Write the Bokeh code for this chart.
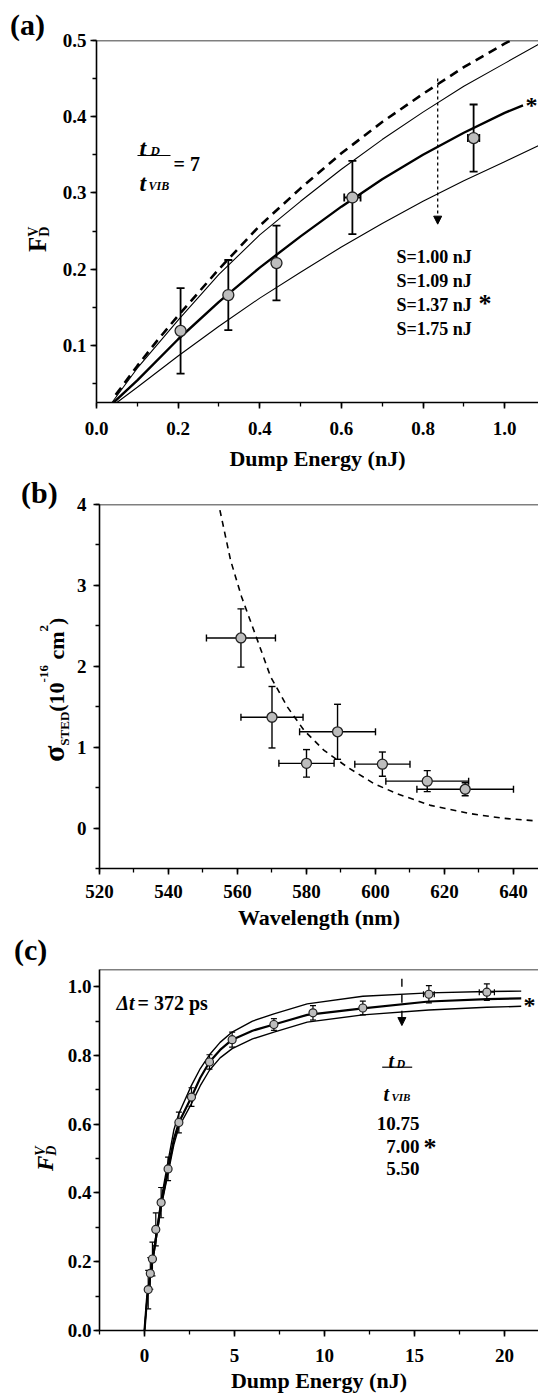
import math
from bokeh.plotting import figure
from bokeh.models import (Range1d, SingleIntervalTicker, NumeralTickFormatter, Label, Div,
                          Span, Whisker, TeeHead, Arrow, NormalHead, ColumnDataSource)
from bokeh.layouts import column, row
from bokeh.embed import file_html
from bokeh.resources import INLINE

SERIF = "Liberation Serif"
PAGE_W = 538

# ---------------- panel (a) data ----------------
a_energy = [0.206, 0.323, 0.441, 0.627, 0.924]
a_fd = [0.119, 0.166, 0.208, 0.294, 0.372]
a_fd_err = [0.056, 0.046, 0.049, 0.048, 0.044]
a_energy_err = [0.0, 0.0, 0.0, 0.02, 0.014]

a_s100_x = [0.047, 0.1, 0.15, 0.2, 0.3, 0.4, 0.5, 0.6, 0.7, 0.8, 0.9, 1.0, 1.015]
a_s100_y = [0.035, 0.073, 0.107, 0.139, 0.200, 0.257, 0.306, 0.352, 0.393, 0.430, 0.465, 0.496, 0.500]
a_s109_x = [0.038, 0.1, 0.2, 0.3, 0.4, 0.5, 0.6, 0.7, 0.8, 0.9, 1.0, 1.083]
a_s109_y = [0.025, 0.070, 0.133, 0.193, 0.245, 0.289, 0.331, 0.370, 0.406, 0.440, 0.470, 0.495]
a_s137_x = [0.042, 0.1, 0.2, 0.3, 0.4, 0.5, 0.6, 0.7, 0.8, 0.9, 1.0, 1.045]
a_s137_y = [0.025, 0.054, 0.108, 0.157, 0.202, 0.243, 0.282, 0.318, 0.350, 0.379, 0.405, 0.415]
a_s175_x = [0.05, 0.1, 0.2, 0.3, 0.4, 0.5, 0.6, 0.7, 0.8, 0.9, 1.0, 1.083]
a_s175_y = [0.025, 0.045, 0.086, 0.125, 0.162, 0.196, 0.229, 0.260, 0.289, 0.316, 0.341, 0.362]
a_legend = ["S=1.00 nJ", "S=1.09 nJ", "S=1.37 nJ", "S=1.75 nJ"]

# ---------------- panel (b) data ----------------
b_wl = [561, 570, 580, 589, 602, 615, 626]
b_sigma = [2.35, 1.37, 0.80, 1.19, 0.79, 0.58, 0.48]
b_sigma_err = [0.36, 0.38, 0.17, 0.34, 0.15, 0.13, 0.08]
b_wl_err = [10, 9, 8, 11, 8, 12, 14]
b_fit_x = [554.9, 558.0, 561.2, 565.8, 569.6, 574.5, 579.3, 585.1, 591.9, 599.6, 606.3, 616.0, 627.6, 637.2, 646.0]
b_fit_y = [3.93, 3.31, 2.857, 2.32, 1.87, 1.495, 1.207, 0.96, 0.752, 0.548, 0.424, 0.28, 0.177, 0.12, 0.09]

# ---------------- panel (c) data ----------------
c_energy = [0.206, 0.323, 0.441, 0.627, 0.924, 1.31, 1.91, 2.61, 3.61, 4.87, 7.19, 9.36, 12.13, 15.8, 19.02]
c_fd = [0.119, 0.166, 0.208, 0.294, 0.372, 0.47, 0.605, 0.679, 0.781, 0.846, 0.89, 0.924, 0.938, 0.978, 0.984]
c_fd_err = [0.056, 0.046, 0.049, 0.048, 0.044, 0.034, 0.03, 0.027, 0.021, 0.022, 0.017, 0.021, 0.02, 0.025, 0.024]
c_energy_err = [0, 0, 0, 0.02, 0.014, 0, 0, 0, 0, 0, 0, 0, 0, 0.3, 0.42]
c_curve_x = [0.0, 0.15, 0.37, 0.65, 0.93, 1.3, 1.63, 1.91, 2.61, 3.1, 3.61, 4.2, 4.87, 6.0, 7.19, 9.04, 12.13, 15.8, 19.02, 20.93]
c_r1075_y = [0.0, 0.102, 0.182, 0.283, 0.383, 0.49, 0.583, 0.631, 0.713, 0.762, 0.802, 0.838, 0.868, 0.900, 0.921, 0.95, 0.972, 0.982, 0.986, 0.987]
c_r700_y = [0.0, 0.100, 0.177, 0.273, 0.370, 0.467, 0.556, 0.605, 0.679, 0.735, 0.781, 0.816, 0.846, 0.872, 0.89, 0.918, 0.937, 0.957, 0.964, 0.966]
c_r550_y = [0.0, 0.098, 0.172, 0.266, 0.360, 0.455, 0.540, 0.592, 0.660, 0.712, 0.757, 0.793, 0.82, 0.848, 0.868, 0.897, 0.918, 0.932, 0.94, 0.943]
c_ratios = ["10.75", "7.00", "5.50"]

# ranges
XR_A, YR_A = (0.0, 1.083), (0.025, 0.5)
XR_B, YR_B = (520.0, 647.25), (-0.5, 4.0)
XR_C, YR_C = (-2.5, 21.89), (0.0, 1.05)

FONT_CSS = "font-family:'Liberation Serif',serif;font-weight:bold;fill:black;"


class Geo:
    """page-pixel -> data converter for one main figure"""
    def __init__(self, fig_left, fig_top, bl, bt, h_frame, xr, yr):
        self.left = fig_left + bl
        self.top = fig_top + bt
        self.w = PAGE_W - self.left
        self.h = h_frame
        self.xr, self.yr = xr, yr

    def x(self, px):
        return self.xr[0] + (px - self.left) * (self.xr[1] - self.xr[0]) / self.w

    def y(self, py):
        return self.yr[1] - (py - self.top) * (self.yr[1] - self.yr[0]) / self.h


def stext(body, size, x=None, y=None, transform=None, italic=False):
    style = FONT_CSS + f"font-size:{size}px;" + ("font-style:italic;" if italic else "")
    pos = f'transform="{transform}"' if transform else f'x="{x}" y="{y}"'
    return f'<text {pos} style="{style}">{body}</text>'


def tsp(body, size=None, dx=None, dy=None):
    attrs = ""
    if dx is not None:
        attrs += f' dx="{dx}"'
    if dy is not None:
        attrs += f' dy="{dy}"'
    st = f' style="font-size:{size}px"' if size else ""
    return f'<tspan{attrs}{st}>{body}</tspan>'


def side_div(w, h, inner):
    svg = (f'<svg xmlns="http://www.w3.org/2000/svg" width="{w}" height="{h}" '
           f'style="display:block;overflow:visible;{FONT_CSS}">{inner}</svg>')
    return Div(text=svg, width=w, height=h, margin=(0, 0, 0, 0),
               styles={"overflow": "visible", "padding": "0"})


def make_fig(fig_w, xr, yr, bl, bt, hf, bb, xint, yint, xfmt, yfmt, xlabel,
             ystand, xstand, lstand):
    p = figure(width=fig_w, height=bt + hf + bb, x_range=Range1d(*xr), y_range=Range1d(*yr),
               output_backend="svg", toolbar_location=None,
               min_border_left=bl, min_border_right=0, min_border_top=bt, min_border_bottom=bb)
    p.outline_line_color = None
    p.xgrid.visible = False
    p.ygrid.visible = False
    p.xaxis.ticker = SingleIntervalTicker(interval=xint, num_minor_ticks=2)
    p.yaxis.ticker = SingleIntervalTicker(interval=yint, num_minor_ticks=2)
    p.xaxis.formatter = NumeralTickFormatter(format=xfmt)
    p.yaxis.formatter = NumeralTickFormatter(format=yfmt)
    for ax in (p.xaxis, p.yaxis):
        ax.axis_line_width = 1.6
        ax.axis_line_color = "black"
        ax.major_tick_line_color = "black"
        ax.major_tick_line_width = 1.6
        ax.minor_tick_line_color = "black"
        ax.minor_tick_line_width = 1.3
        ax.major_tick_in = 0
        ax.major_tick_out = 6
        ax.minor_tick_in = 0
        ax.minor_tick_out = 4
        ax.major_label_text_font = SERIF
        ax.major_label_text_font_style = "bold"
        ax.major_label_text_font_size = "19px"
        ax.major_label_text_color = "black"
    p.yaxis.major_label_standoff = ystand
    p.xaxis.major_label_standoff = xstand
    p.xaxis.axis_label = xlabel
    p.xaxis.axis_label_text_font = SERIF
    p.xaxis.axis_label_text_font_style = "bold"
    p.xaxis.axis_label_text_font_size = "22px"
    p.xaxis.axis_label_text_color = "black"
    p.xaxis.axis_label_standoff = lstand
    p.add_layout(Span(location=yr[1], dimension="width", line_color="black", line_width=1.6))
    return p


def txt(p, g, px, py, text, size, style="bold", align="left"):
    p.add_layout(Label(x=g.x(px), y=g.y(py), text=text, text_font=SERIF, text_font_style=style,
                       text_font_size=f"{size}px", text_align=align, text_baseline="alphabetic",
                       text_color="black"))


def hline(p, g, px0, px1, py, lw=1.2):
    p.add_layout(Arrow(x_start=g.x(px0), y_start=g.y(py), x_end=g.x(px1), y_end=g.y(py),
                       end=None, start=None, line_width=lw, line_color="black"))


def errors(p, xs, ys, yerr, xerr, cap, lw):
    v = ColumnDataSource(dict(base=xs, lo=[a - e for a, e in zip(ys, yerr)],
                              hi=[a + e for a, e in zip(ys, yerr)]))
    p.add_layout(Whisker(source=v, base="base", lower="lo", upper="hi", dimension="height",
                         line_color="black", line_width=lw, level="underlay",
                         upper_head=TeeHead(size=cap, line_color="black", line_width=lw),
                         lower_head=TeeHead(size=cap, line_color="black", line_width=lw)))
    idx = [i for i, e in enumerate(xerr) if e > 0]
    if idx:
        hsrc = ColumnDataSource(dict(base=[ys[i] for i in idx],
                                     lo=[xs[i] - xerr[i] for i in idx],
                                     hi=[xs[i] + xerr[i] for i in idx]))
        p.add_layout(Whisker(source=hsrc, base="base", lower="lo", upper="hi", dimension="width",
                             line_color="black", line_width=lw, level="underlay",
                             upper_head=TeeHead(size=cap, line_color="black", line_width=lw),
                             lower_head=TeeHead(size=cap, line_color="black", line_width=lw)))


# =============== panel (a) ===============
A_TOP, A_SW, A_BL, A_BT, A_HF, A_BB = 0, 55, 41, 40, 362, 75
A_H = A_BT + A_HF + A_BB
pa = make_fig(PAGE_W - A_SW, XR_A, YR_A, A_BL, A_BT, A_HF, A_BB, 0.2, 0.1, "0.0", "0.0",
              "Dump Energy (nJ)", 4, 13, 8)
ga = Geo(A_SW, A_TOP, A_BL, A_BT, A_HF, XR_A, YR_A)
pa.line(a_s100_x, a_s100_y, line_width=2.6, line_dash="9 6", line_color="black")
pa.line(a_s109_x, a_s109_y, line_width=1.1, line_color="black")
pa.line(a_s137_x, a_s137_y, line_width=2.4, line_color="black")
pa.line(a_s175_x, a_s175_y, line_width=1.1, line_color="black")
errors(pa, a_energy, a_fd, a_fd_err, a_energy_err, 8, 1.8)
pa.scatter(a_energy, a_fd, size=11, marker="circle", fill_color="#bdbdbd",
           line_color="#222222", line_width=1.3)
pa.add_layout(Arrow(x_start=0.836, y_start=0.45, x_end=0.836, y_end=0.259, line_dash="3 3",
                    line_width=1.3, line_color="black",
                    end=NormalHead(size=8, fill_color="black", line_color="black")))
txt(pa, ga, 139, 147, "t", 24, "bold italic")
txt(pa, ga, 150, 150, "D", 13, "bold italic")
hline(pa, ga, 137, 170, 155)
txt(pa, ga, 139, 182, "t", 24, "bold italic")
txt(pa, ga, 148, 185, "VIB", 12, "bold italic")
txt(pa, ga, 173, 163, "= 7", 20)
for i, s in enumerate(a_legend):
    txt(pa, ga, 396, 256 + 24.3 * i, s, 18)
txt(pa, ga, 478, 303, "*", 26)
txt(pa, ga, 525, 104, "*", 24)

da = side_div(A_SW, A_H,
              stext("(a)", 30, x=10, y=35)
              + stext("F" + tsp("D", 14, dy=2.5) + tsp("V", 14, dx=-10.1, dy=-11), 25,
                      transform="translate(46,252) rotate(-90)"))

# =============== panel (b) ===============
B_TOP = A_TOP + A_H
B_SW, B_BL, B_BT, B_HF, B_BB = 72, 27, 27, 364, 68
B_H = B_BT + B_HF + B_BB
pb = make_fig(PAGE_W - B_SW, XR_B, YR_B, B_BL, B_BT, B_HF, B_BB, 20, 1, "0", "0",
              "Wavelength (nm)", 7, 10, 4)
pb.line(b_fit_x, b_fit_y, line_width=1.6, line_dash="6 5", line_color="black")
errors(pb, b_wl, b_sigma, b_sigma_err, b_wl_err, 7, 1.4)
pb.scatter(b_wl, b_sigma, size=10, marker="circle", fill_color="#bdbdbd",
           line_color="#222222", line_width=1.3)

db = side_div(B_SW, B_H,
              stext("(b)", 30, x=21, y=503 - B_TOP)
              + stext(tsp("σ", 30) + tsp("STED", 13, dy=5) + tsp("(10", 22, dy=-5)
                      + tsp("-16", 13, dy=-15.5) + tsp(" cm", 22, dy=15.5)
                      + tsp("2", 13, dy=-15.5) + tsp(")", 22, dy=15.5), 22,
                      transform=f"translate(63.5,{762 - B_TOP}) rotate(-90)"))

# =============== panel (c) ===============
C_TOP = B_TOP + B_H
C_SW, C_BL, C_BT, C_HF = 60, 39, 33, 361
C_BB = 1398 - C_TOP - C_BT - C_HF
C_H = C_BT + C_HF + C_BB
pc = make_fig(PAGE_W - C_SW, XR_C, YR_C, C_BL, C_BT, C_HF, C_BB, 5, 0.2, "0", "0.0",
              "Dump Energy (nJ)", 2, 12, 3)
gc = Geo(C_SW, C_TOP, C_BL, C_BT, C_HF, XR_C, YR_C)
pc.line(c_curve_x, c_r1075_y, line_width=1.4, line_color="black")
pc.line(c_curve_x, c_r550_y, line_width=1.4, line_color="black")
pc.line(c_curve_x, c_r700_y, line_width=2.2, line_color="black")
errors(pc, c_energy, c_fd, c_fd_err, c_energy_err, 6, 1.2)
pc.scatter(c_energy, c_fd, size=8, marker="circle", fill_color="#bdbdbd",
           line_color="#222222", line_width=1.2)
pc.add_layout(Arrow(x_start=14.3, y_start=1.023, x_end=14.3, y_end=0.887, line_dash="8 8",
                    line_width=1.4, line_color="black",
                    end=NormalHead(size=8, fill_color="black", line_color="black")))
txt(pc, gc, 116, 1002, "Δt", 20, "bold italic")
txt(pc, gc, 137, 1002, " = 372 ps", 20)
txt(pc, gc, 388, 1060, "t", 20, "bold italic")
txt(pc, gc, 396, 1063, "D", 12, "bold italic")
hline(pc, gc, 381.7, 411.7, 1066.7)
txt(pc, gc, 383, 1093, "t", 20, "bold italic")
txt(pc, gc, 391, 1096, "VIB", 11, "bold italic")
txt(pc, gc, 419, 1123, c_ratios[0], 19, align="right")
txt(pc, gc, 419, 1146, c_ratios[1], 19, align="right")
txt(pc, gc, 419, 1168, c_ratios[2], 19, align="right")
txt(pc, gc, 423, 1147, "*", 26)
txt(pc, gc, 523, 1004, "*", 24)

dc = side_div(C_SW, C_H,
              stext("(c)", 30, x=14, y=960 - C_TOP)
              + stext("F" + tsp("D", 14, dy=3) + tsp("V", 14, dx=-10.1, dy=-11), 23,
                      transform=f"translate(53,{1171 - C_TOP}) rotate(-90)", italic=True))

layout = column(row(da, pa, spacing=0), row(db, pb, spacing=0), row(dc, pc, spacing=0),
                spacing=0)
open("out.html", "w").write(file_html(layout, INLINE))
